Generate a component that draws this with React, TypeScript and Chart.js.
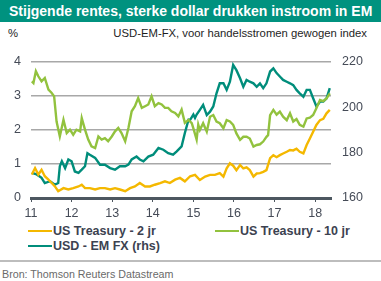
import React, { useEffect, useRef } from "react";
import { Chart, registerables } from "chart.js";

Chart.register(...registerables);

const TITLE = "Stijgende rentes, sterke dollar drukken instroom in EM";
const LEFT_UNIT = "%";
const RIGHT_UNIT = "USD-EM-FX, voor handelsstromen gewogen index";
const SOURCE = "Bron: Thomson Reuters Datastream";

const xTicks = [2011, 2012, 2013, 2014, 2015, 2016, 2017, 2018];
const leftTicks = [0, 1, 2, 3, 4];
const rightTicks = [160, 180, 200, 220];

const label2y = "US Treasury - 2 jr";
const label10y = "US Treasury - 10 jr";
const labelFx = "USD - EM FX (rhs)";

const t2yDates = [
  2011.02, 2011.1, 2011.18, 2011.26, 2011.34, 2011.43, 2011.51, 2011.59, 2011.67, 2011.8,
  2011.92, 2012.04, 2012.17, 2012.25, 2012.33, 2012.45, 2012.58, 2012.7, 2012.82, 2012.95,
  2013.07, 2013.19, 2013.32, 2013.44, 2013.56, 2013.68, 2013.81, 2013.93, 2014.05, 2014.18,
  2014.3, 2014.42, 2014.55, 2014.67, 2014.79, 2014.92, 2015.04, 2015.16, 2015.29, 2015.41,
  2015.53, 2015.65, 2015.74, 2015.82, 2015.9, 2015.98, 2016.06, 2016.15, 2016.23, 2016.31,
  2016.39, 2016.48, 2016.56, 2016.64, 2016.72, 2016.8, 2016.89, 2016.97, 2017.05, 2017.13,
  2017.21, 2017.3, 2017.38, 2017.46, 2017.54, 2017.62, 2017.71, 2017.79, 2017.87, 2017.95,
  2018.03, 2018.12, 2018.2, 2018.28, 2018.36,
];
const t2yValues = [
  0.69, 0.88, 0.69, 0.83, 0.64, 0.54, 0.44, 0.34, 0.2, 0.29,
  0.25, 0.29, 0.34, 0.39, 0.29, 0.29, 0.25, 0.29, 0.29, 0.25,
  0.29, 0.25, 0.2, 0.29, 0.34, 0.44, 0.34, 0.34, 0.39, 0.44,
  0.49, 0.44, 0.54, 0.59, 0.49, 0.64, 0.68, 0.53, 0.63, 0.68,
  0.68, 0.73, 0.63, 0.87, 1.02, 0.95, 0.82, 0.97, 0.87, 0.9,
  0.82, 0.63, 0.72, 0.73, 0.77, 0.82, 1.17, 1.26, 1.2, 1.26,
  1.31, 1.36, 1.41, 1.4, 1.45, 1.36, 1.31, 1.56, 1.75, 1.95,
  2.15, 2.29, 2.33, 2.49, 2.59,
];

const t10yDates = [
  2011.02, 2011.06, 2011.12, 2011.18, 2011.26, 2011.34, 2011.43, 2011.51, 2011.57, 2011.63,
  2011.71, 2011.8, 2011.88, 2011.96, 2012.04, 2012.12, 2012.21, 2012.25, 2012.33, 2012.41,
  2012.49, 2012.58, 2012.66, 2012.74, 2012.82, 2012.9, 2012.99, 2013.07, 2013.15, 2013.23,
  2013.32, 2013.4, 2013.48, 2013.56, 2013.64, 2013.73, 2013.81, 2013.89, 2013.97, 2014.05,
  2014.14, 2014.22, 2014.3, 2014.38, 2014.46, 2014.55, 2014.63, 2014.71, 2014.79, 2014.88,
  2014.96, 2015.0, 2015.08, 2015.12, 2015.16, 2015.24, 2015.33, 2015.41, 2015.49, 2015.57,
  2015.65, 2015.74, 2015.82, 2015.9, 2015.98, 2016.06, 2016.15, 2016.23, 2016.31, 2016.39,
  2016.48, 2016.56, 2016.64, 2016.72, 2016.8, 2016.84, 2016.89, 2016.97, 2017.05, 2017.13,
  2017.21, 2017.3, 2017.38, 2017.46, 2017.54, 2017.62, 2017.71, 2017.79, 2017.87, 2017.95,
  2018.03, 2018.12, 2018.2, 2018.28, 2018.36,
];
const t10yValues = [
  3.43, 3.38, 3.73, 3.58, 3.43, 3.53, 3.19, 3.09, 2.99, 2.25,
  1.81, 2.3, 1.91, 2.01, 1.86, 2.01, 1.96, 2.35, 2.01, 1.72,
  1.52, 1.47, 1.81, 1.72, 1.76, 1.67, 1.81, 1.96, 2.06, 1.91,
  1.67, 2.06, 2.55, 2.7, 2.94, 2.65, 2.7, 2.75, 2.99, 2.7,
  2.79, 2.75, 2.65, 2.65, 2.55, 2.5, 2.4, 2.6, 2.21, 2.3,
  2.2, 2.05, 1.72, 2.16, 2.0, 2.2, 1.95, 2.39, 2.44, 2.25,
  2.2, 2.05, 2.29, 2.25, 2.15, 1.9, 1.71, 1.8, 1.8, 1.75,
  1.51, 1.56, 1.58, 1.66, 1.8, 1.85, 2.44, 2.59, 2.45, 2.54,
  2.39, 2.29, 2.49, 2.25, 2.32, 2.15, 2.1, 2.34, 2.36, 2.44,
  2.64, 2.88, 2.85, 2.93, 3.08,
];

const fxDates = [
  2011.02, 2011.14, 2011.26, 2011.34, 2011.47, 2011.59, 2011.67, 2011.71, 2011.76, 2011.84,
  2011.92, 2012.0, 2012.08, 2012.17, 2012.25, 2012.33, 2012.39, 2012.45, 2012.58, 2012.7,
  2012.82, 2012.95, 2013.07, 2013.19, 2013.32, 2013.4, 2013.48, 2013.6, 2013.68, 2013.77,
  2013.89, 2014.01, 2014.14, 2014.26, 2014.38, 2014.5, 2014.59, 2014.71, 2014.79, 2014.88,
  2014.92, 2015.0, 2015.04, 2015.08, 2015.16, 2015.24, 2015.33, 2015.41, 2015.49, 2015.57,
  2015.65, 2015.74, 2015.82, 2015.9, 2015.98, 2016.06, 2016.15, 2016.23, 2016.31, 2016.39,
  2016.48, 2016.56, 2016.64, 2016.72, 2016.8, 2016.89, 2016.97, 2017.05, 2017.13, 2017.21,
  2017.3, 2017.38, 2017.46, 2017.54, 2017.62, 2017.71, 2017.79, 2017.87, 2017.95, 2018.03,
  2018.12, 2018.2, 2018.28, 2018.36,
];
const fxValues = [
  171.1, 170.4, 168.9, 166.6, 167.4, 165.9, 166.6, 174.0, 176.2, 173.2,
  177.0, 176.2, 171.7, 171.1, 172.5, 174.0, 179.8, 179.1, 177.7, 174.7,
  174.7, 173.2, 172.5, 174.0, 174.0, 174.7, 177.0, 178.3, 177.0, 176.2,
  178.3, 179.1, 182.1, 181.3, 179.8, 179.1, 180.6, 182.8, 188.7, 194.5,
  194.5, 196.8, 195.3, 196.8, 198.9, 201.1, 196.6, 198.1, 200.4, 206.2,
  210.6, 210.6, 207.7, 211.3, 218.7, 216.4, 212.8, 209.1, 212.1, 211.3,
  210.6, 209.1, 210.6, 208.5, 210.6, 215.8, 217.2, 215.1, 213.6, 212.1,
  211.3, 210.6, 209.8, 207.7, 206.2, 204.7, 207.7, 207.7, 204.0, 200.4,
  202.5, 202.5, 204.0, 208.5,
];

const ORANGE = "#f4b800";
const GREEN = "#92c23e";
const TEAL = "#008d7b";
const TITLE_BG = "#00927f";
const TEXT = "#454b57";
const FONT = "'Liberation Sans', Arial, sans-serif";

function pairs(xs: number[], ys: number[]) {
  return xs.map((x, i) => ({ x, y: ys[i] }));
}

export default function App() {
  const ref = useRef<HTMLCanvasElement | null>(null);

  useEffect(() => {
    if (!ref.current) return;
    const chart = new Chart(ref.current, {
      type: "line",
      data: {
        datasets: [
          {
            label: label2y,
            data: pairs(t2yDates, t2yValues),
            borderColor: ORANGE,
            borderWidth: 2.4,
            pointRadius: 0,
            yAxisID: "y",
          },
          {
            label: label10y,
            data: pairs(t10yDates, t10yValues),
            borderColor: GREEN,
            borderWidth: 2.4,
            pointRadius: 0,
            yAxisID: "y",
          },
          {
            label: labelFx,
            data: pairs(fxDates, fxValues),
            borderColor: TEAL,
            borderWidth: 2.4,
            pointRadius: 0,
            yAxisID: "y1",
          },
        ],
      },
      options: {
        animation: false,
        responsive: false,
        maintainAspectRatio: false,
        layout: { padding: { top: 22, left: 0, right: 0, bottom: 0 } },
        plugins: { legend: { display: false }, tooltip: { enabled: false } },
        scales: {
          x: {
            type: "linear",
            min: 2011,
            max: 2018.39,
            afterBuildTicks: (s: any) => {
              s.ticks = xTicks.map((v) => ({ value: v }));
            },
            afterFit: (s: any) => {
              s.height = 22;
            },
            ticks: {
              callback: (v: any) => String(v).slice(2),
              font: { family: FONT, size: 12.5 },
              color: TEXT,
              padding: 4,
              maxRotation: 0,
              autoSkip: false,
            },
            grid: {
              drawOnChartArea: false,
              drawTicks: true,
              tickLength: 4,
              color: "#4d5760",
              lineWidth: 1,
            },
            border: { display: true, color: "#4d5760", width: 3 },
          },
          y: {
            position: "left",
            min: 0,
            max: 4,
            afterBuildTicks: (s: any) => {
              s.ticks = leftTicks.map((v) => ({ value: v }));
            },
            afterFit: (s: any) => {
              s.width = 31;
            },
            ticks: {
              font: { family: FONT, size: 12.5 },
              color: TEXT,
              padding: 10,
            },
            grid: { color: "#a8a8a8", lineWidth: 1.5, drawTicks: false },
            border: { display: false },
          },
          y1: {
            position: "right",
            min: 160,
            max: 220,
            afterBuildTicks: (s: any) => {
              s.ticks = rightTicks.map((v) => ({ value: v }));
            },
            afterFit: (s: any) => {
              s.width = 50;
            },
            ticks: {
              font: { family: FONT, size: 12.5 },
              color: TEXT,
              padding: 11,
            },
            grid: { display: false, drawTicks: false },
            border: { display: false },
          },
        },
      },
    });
    return () => chart.destroy();
  }, []);

  const legendItem = (color: string, text: string, left: number, top: number) => (
    <div style={{ position: "absolute", left, top, height: 14, display: "flex", alignItems: "center" }}>
      <div style={{ width: 24, height: 2, background: color, marginRight: 1 }} />
      <span style={{ fontFamily: FONT, fontWeight: "bold", fontSize: 12.5, color: "#3c4250", whiteSpace: "nowrap" }}>{text}</span>
    </div>
  );

  return (
    <div style={{ position: "fixed", left: 0, top: 0, width: 381, height: 281, background: "#fff", overflow: "hidden" }}>
      <div
        style={{
          position: "absolute",
          left: 0,
          top: 0,
          width: 381,
          height: 22,
          background: TITLE_BG,
          color: "#fff",
          fontFamily: FONT,
          fontWeight: "bold",
          fontSize: 14,
          lineHeight: "22px",
          paddingLeft: 9,
          boxSizing: "border-box",
          whiteSpace: "nowrap",
        }}
      >
        {TITLE}
      </div>
      <div style={{ position: "absolute", left: 8, top: 26, fontFamily: FONT, fontSize: 11.3, color: "#1e1e1e", lineHeight: "14px" }}>
        {LEFT_UNIT}
      </div>
      <div style={{ position: "absolute", right: 14, top: 26, fontFamily: FONT, fontSize: 11.3, color: "#1e1e1e", lineHeight: "14px", whiteSpace: "nowrap" }}>
        {RIGHT_UNIT}
      </div>
      <canvas ref={ref} width={381} height={180} style={{ position: "absolute", left: 0, top: 40, width: 381, height: 180 }} />
      {legendItem(ORANGE, label2y, 28, 224)}
      {legendItem(GREEN, label10y, 215, 224)}
      {legendItem(TEAL, labelFx, 28, 239)}
      <div style={{ position: "absolute", left: 0, top: 260, width: 381, height: 2, background: "#bdbdbd" }} />
      <div style={{ position: "absolute", left: 2, top: 268, fontFamily: FONT, fontSize: 10.7, color: "#6a6a6a", lineHeight: "13px", whiteSpace: "nowrap" }}>
        {SOURCE}
      </div>
    </div>
  );
}
